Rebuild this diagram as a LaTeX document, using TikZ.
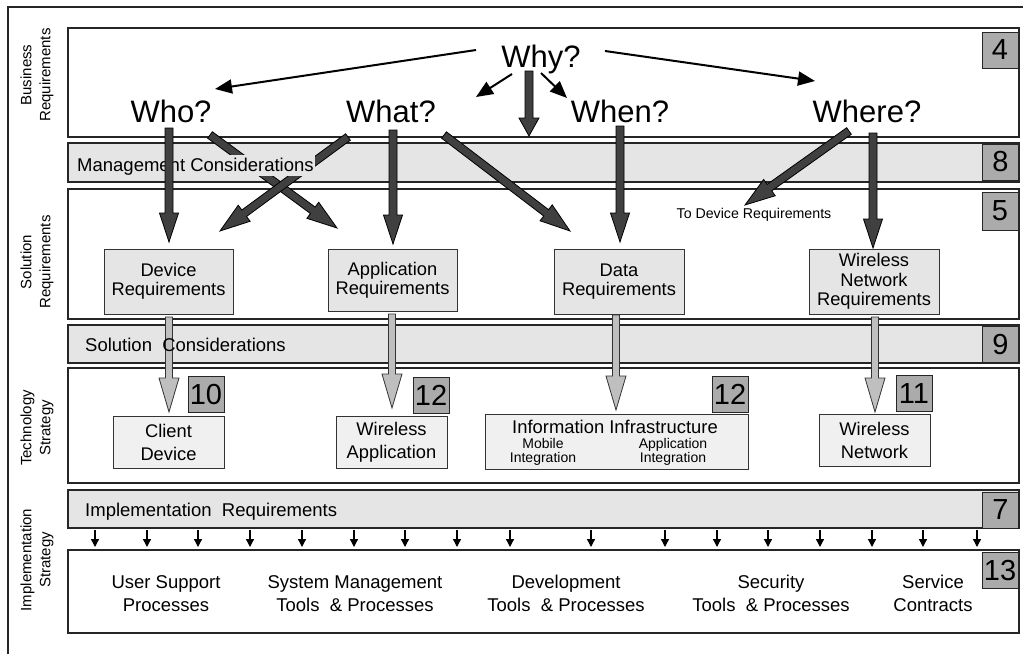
\documentclass[tikz,border=0pt]{standalone}
\usepackage{fontspec}
\setmainfont{Liberation Sans}
\usetikzlibrary{calc,arrows.meta}

\newcommand\fsz[2]{\fontsize{#1}{#2}\selectfont}

% Block arrow: [style]{tail}{tip}{head length}{half shaft width}{half head width}
\newcommand\blockarrow[6][]{%
  \coordinate (bahead) at ($(#3)!#4!(#2)$);
  \draw[#1] ($(#2)!#5!90:(#3)$) -- ($(bahead)!#5!90:(#3)$) -- ($(bahead)!#6!90:(#3)$)
    -- (#3) -- ($(bahead)!#6!-90:(#3)$) -- ($(bahead)!#5!-90:(#3)$)
    -- ($(#2)!#5!-90:(#3)$) -- cycle;
}

\begin{document}
\begin{tikzpicture}[x=1pt,y=-1pt,
  frame/.style={draw=black!85,line width=1.2pt},
  panel/.style={draw=black!85,line width=1.2pt,fill=white,inner sep=0pt},
  band/.style={draw=black!85,line width=1.2pt,fill=black!10,inner sep=0pt},
  reqbox/.style={draw=black!80,line width=1pt,fill=black!10,align=center,
    inner sep=1pt,font=\fsz{18.3}{19.3}},
  techbox/.style={draw=black!80,line width=1pt,fill=black!6,align=center,
    inner sep=1pt,font=\fsz{18.3}{23}},
  numbox/.style={draw=black!85,line width=1pt,fill=black!33,
    minimum width=36pt,minimum height=36pt,inner sep=0pt,font=\fsz{29}{30}},
  question/.style={anchor=base,inner sep=0pt,font=\fsz{31}{36}},
  sidelabel/.style={rotate=90,align=center,inner sep=0pt,font=\fsz{15}{19}},
  bandlabel/.style={anchor=base west,inner sep=1pt,font=\fsz{18.5}{22}},
  procs/.style={align=center,inner sep=0pt,font=\fsz{18.5}{23}},
  thinarrow/.style={line width=2pt,-{Triangle[length=17pt,width=14pt]}},
  smallarrow/.style={line width=1.3pt,-{Triangle[length=8pt,width=8pt]}},
  darkarrow/.style={fill=black!75,draw=black,line width=0.8pt,line join=miter},
  lightarrow/.style={fill=black!25,draw=black!80,line width=0.8pt,line join=miter}]

\useasboundingbox (0,0) rectangle (1023,654);

% outer frame
\draw[frame] (8,654) -- (8,7) -- (1023,7);

% layers
\node[panel,minimum width=951pt,minimum height=109pt] (bizpanel) at (543.5,82.5) {};
\node[band,minimum width=951pt,minimum height=39pt] (mgmtband) at (543.5,162.5) {};
\node[panel,minimum width=951pt,minimum height=130pt] (solpanel) at (543.5,254) {};
\node[band,minimum width=951pt,minimum height=38pt] (solband) at (543.5,344) {};
\node[panel,minimum width=951pt,minimum height=115pt] (techpanel) at (543.5,425.5) {};
\node[band,minimum width=951pt,minimum height=38pt] (implband) at (543.5,509) {};
\node[panel,minimum width=951pt,minimum height=83pt] (implpanel) at (543.5,591.5) {};

% side labels
\node[sidelabel] (lbiz) at (37,75) {Business\\Requirements};
\node[sidelabel] (lsol) at (37,262) {Solution\\Requirements};
\node[sidelabel] (ltech) at (37,428) {Technology\\Strategy};
\node[sidelabel] (limpl) at (37,560) {Implementation\\Strategy};

% number tags
\node[numbox] (n4) at (1000,50) {4};
\node[numbox] (n8) at (1000.5,162) {8};
\node[numbox,minimum height=38pt] (n5) at (1000,211) {5};
\node[numbox] (n9) at (1000.5,344.5) {9};
\node[numbox] (n7) at (1000.5,510) {7};
\node[numbox] (n13) at (1000,570.5) {13};
\node[numbox] (n10) at (206,394.5) {10};
\node[numbox] (n12a) at (431,395) {12};
\node[numbox] (n12b) at (730,394.5) {12};
\node[numbox] (n11) at (914,393.5) {11};

% solution requirement boxes
\node[reqbox,minimum width=129pt,minimum height=65pt] (dev) at (168.5,281.5) {Device\\Requirements};
\node[reqbox,minimum width=129pt,minimum height=62pt] (app) at (392.5,280) {Application\\Requirements};
\node[reqbox,minimum width=130pt,minimum height=65pt] (data) at (619,281.5) {Data\\Requirements};
\node[reqbox,minimum width=130pt,minimum height=65pt] (wnr) at (874,281.5) {Wireless\\Network\\Requirements};

% technology boxes
\node[techbox,minimum width=111pt,minimum height=52pt] (client) at (168.5,442) {Client\\Device};
\node[techbox,minimum width=111pt,minimum height=52pt] (wapp) at (391.5,442) {Wireless\\Application};
\node[techbox,minimum width=263pt,minimum height=55pt] (info) at (616.5,441.5) {};
\node[techbox,minimum width=111pt,minimum height=52pt] (wnet) at (874.5,440) {Wireless\\Network};
\node[inner sep=0pt,font=\fsz{18.4}{22}] (infotitle) at (615,427) {Information Infrastructure};
\node[inner sep=0pt,align=center,font=\fsz{14}{14}] (mobint) at (543,452) {Mobile\\Integration};
\node[inner sep=0pt,align=center,font=\fsz{14}{14}] (appint) at (673,452) {Application\\Integration};

% questions
\node[question] (why) at (541,67) {Why?};
\node[question] (who) at (171,122) {Who?};
\node[question] (what) at (391,122) {What?};
\node[question] (when) at (620,122) {When?};
\node[question] (where) at (867,122) {Where?};
\node[inner sep=0pt,font=\fsz{14.2}{17}] (todev) at (754,215) {To Device Requirements};

% thin arrows from Why?
\coordinate (whyA) at (476,50);  \coordinate (whoT) at (215,89);
\coordinate (whyB) at (512,74);  \coordinate (whatT) at (476,97);
\coordinate (whyC) at (541,73);  \coordinate (whenT) at (567,98);
\coordinate (whyD) at (605,51);  \coordinate (whereT) at (815,81);
\draw[thinarrow] (whyA) -- (whoT);
\draw[thinarrow] (whyB) -- (whatT);
\draw[thinarrow] (whyC) -- (whenT);
\draw[thinarrow] (whyD) -- (whereT);

% crossing block arrows, partly covered by the band label
\coordinate (whoX) at (210,135);  \coordinate (appT) at (337,228);
\coordinate (whatX) at (348,137); \coordinate (devT) at (220,231);
\blockarrow[darkarrow]{whoX}{appT}{30pt}{4pt}{10pt}
\blockarrow[darkarrow]{whatX}{devT}{30pt}{4pt}{10pt}

\node[bandlabel,fill=black!10,text height=15pt,text depth=4pt] (mgmt) at (76,171) {Management Considerations};

% remaining dark block arrows
\coordinate (whyS) at (529,71);   \coordinate (whyE) at (529,136);
\coordinate (whoS) at (169,128);  \coordinate (devN) at (169,242);
\coordinate (whatS) at (393,130); \coordinate (appN) at (393,244);
\coordinate (whatY) at (444,135); \coordinate (dataT) at (570,231);
\coordinate (whenS) at (620,126); \coordinate (dataN) at (620,242);
\coordinate (whereX) at (849,131);\coordinate (todevT) at (745,205);
\coordinate (whereS) at (873,133);\coordinate (wnrN) at (873,248);
\blockarrow[darkarrow]{whyS}{whyE}{18pt}{4pt}{10pt}
\blockarrow[darkarrow]{whoS}{devN}{29pt}{4pt}{9.5pt}
\blockarrow[darkarrow]{whatS}{appN}{29pt}{4pt}{9.5pt}
\blockarrow[darkarrow]{whatY}{dataT}{30pt}{4pt}{10pt}
\blockarrow[darkarrow]{whenS}{dataN}{29pt}{4pt}{9.5pt}
\blockarrow[darkarrow]{whereX}{todevT}{30pt}{4pt}{10pt}
\blockarrow[darkarrow]{whereS}{wnrN}{29pt}{4pt}{9.5pt}

% light block arrows down to the technology layer
\coordinate (devS) at (169,317);  \coordinate (clientN) at (169,412);
\coordinate (appS) at (392,314);  \coordinate (wappN) at (392,408);
\coordinate (dataS) at (616,315); \coordinate (infoN) at (616,410);
\coordinate (wnrS) at (875,317);  \coordinate (wnetN) at (875,412);
\blockarrow[lightarrow]{devS}{clientN}{34pt}{3.5pt}{10pt}
\blockarrow[lightarrow]{appS}{wappN}{34pt}{3.5pt}{10pt}
\blockarrow[lightarrow]{dataS}{infoN}{34pt}{3.5pt}{10pt}
\blockarrow[lightarrow]{wnrS}{wnetN}{34pt}{3.5pt}{10pt}

\node[bandlabel] (solcons) at (84,351) {Solution\ \ Considerations};
\node[bandlabel] (implreq) at (84,516) {Implementation\ \ Requirements};

% implementation requirements feed the strategy layer
\foreach \x in {95,147,198,250,302,354,405,457,510,591,665,717,768,820,872,923,977}
  \draw[smallarrow] (\x,530) -- (\x,547);

% implementation strategy items
\node[procs] (usp) at (166,593.5) {User Support\\Processes};
\node[procs] (smt) at (355,593.5) {System Management\\Tools \ \& Processes};
\node[procs] (dtp) at (566,593.5) {Development\\Tools \ \& Processes};
\node[procs] (stp) at (771,593.5) {Security\\Tools \ \& Processes};
\node[procs] (svc) at (933,593.5) {Service\\Contracts};

\end{tikzpicture}
\end{document}
